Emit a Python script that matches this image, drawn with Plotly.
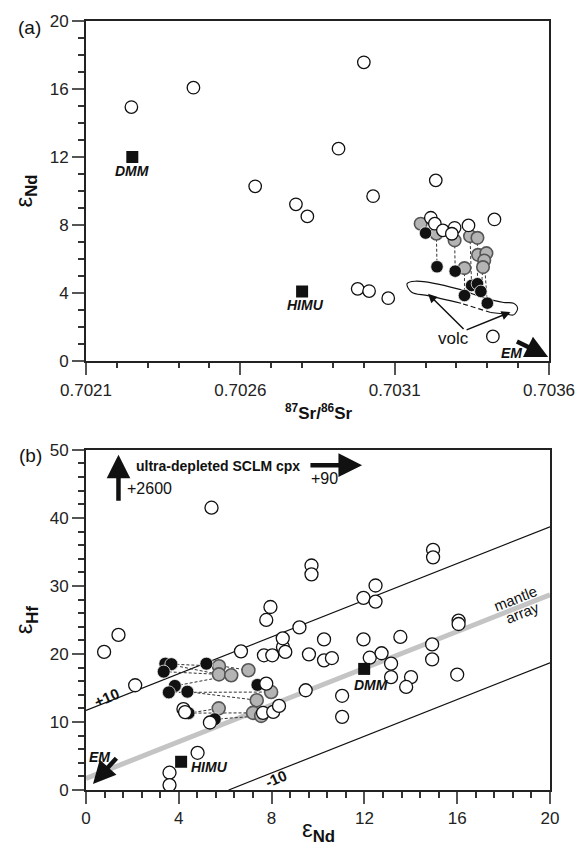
import plotly.graph_objects as go

# ---------------- Panel (a): 87Sr/86Sr vs eNd ----------------
a_open_sr = [0.702247, 0.702448, 0.702648, 0.702780, 0.702817, 0.702918, 0.703000,
             0.703030, 0.703233, 0.703423, 0.702980, 0.703017, 0.703079, 0.703418,
             0.703217, 0.703230, 0.703256, 0.703294, 0.703285, 0.703339]
a_open_nd = [14.94, 16.08, 10.28, 9.22, 8.51, 12.49, 17.57,
             9.70, 10.63, 8.33, 4.25, 4.12, 3.70, 1.45,
             8.43, 8.08, 7.69, 7.84, 7.49, 7.98]
a_grey_sr = [0.703184, 0.703235, 0.703294, 0.703344, 0.703368, 0.703370, 0.703397,
             0.703390, 0.703386, 0.703326]
a_grey_nd = [8.08, 7.49, 7.10, 7.35, 7.25, 6.25, 6.35, 5.92, 5.53, 5.47]
a_black_sr = [0.703200, 0.703237, 0.703296, 0.703349, 0.703368, 0.703326, 0.703379, 0.703400]
a_black_nd = [7.53, 5.55, 5.29, 4.45, 4.55, 3.86, 4.10, 3.41]
a_ties = [(1, 1), (2, 2), (3, 3), (4, 4), (9, 5), (8, 6), (7, 7)]  # (grey idx, black idx)
a_ref_names = ["DMM", "HIMU"]
a_ref_sr = [0.70225, 0.70280]
a_ref_nd = [12.0, 4.1]
a_volc_sr = [0.703315, 0.703208, 0.703155, 0.703140, 0.703166, 0.703304, 0.703389,
             0.703453, 0.703485, 0.703498, 0.703485, 0.703464, 0.703411]
a_volc_nd = [3.40, 3.85, 4.05, 4.55, 4.70, 4.25, 3.72, 3.45, 3.40, 3.10, 2.72, 2.76, 2.86]
a_xticks = [0.7021, 0.7026, 0.7031, 0.7036]
a_yticks = [0, 4, 8, 12, 16, 20]

# ---------------- Panel (b): eNd vs eHf ----------------
b_open_nd = [0.78, 1.40, 2.12, 5.41, 3.60, 3.60, 4.81, 4.20, 4.27, 5.34,
             6.68, 7.67, 8.03, 8.49, 8.59, 8.48, 7.95, 7.77, 7.77, 7.63,
             8.07, 8.32, 9.20, 9.72, 9.72, 9.61, 10.26, 10.26, 10.60, 9.47,
             11.04, 11.04, 11.96, 12.23, 12.74, 12.48, 11.96, 12.48, 13.15, 13.15,
             14.01, 13.80, 13.55, 14.92, 14.92, 14.96, 14.96, 16.06, 16.06, 16.00]
b_open_hf = [20.3, 22.8, 15.4, 41.5, 2.54, 0.73, 5.47, 11.9, 11.45, 9.92,
             20.38, 19.8, 19.8, 21.0, 20.3, 22.3, 26.9, 25.0, 15.64, 11.34,
             11.48, 12.36, 23.9, 33.0, 31.7, 19.94, 22.14, 19.06, 19.4, 14.66,
             13.85, 10.75, 22.14, 19.45, 20.1, 30.06, 28.25, 27.7, 18.57, 16.6,
             16.6, 15.15, 22.5, 21.4, 19.2, 35.3, 34.2, 24.9, 24.4, 16.97]
b_grey_nd = [5.73, 5.73, 6.26, 7.00, 7.98, 7.36, 5.72, 7.20, 7.55]
b_grey_hf = [18.2, 17.0, 16.86, 17.6, 14.4, 13.2, 12.0, 11.34, 10.9]
b_black_nd = [3.42, 3.68, 5.19, 3.35, 3.83, 3.57, 4.37, 7.39, 4.42, 5.55]
b_black_hf = [18.57, 18.5, 18.57, 17.4, 15.3, 14.35, 14.45, 15.45, 11.3, 10.4]
b_ties = [(1, 0), (3, 1), (0, 1), (2, 3), (4, 2), (6, 5), (5, 4), (8, 6), (8, 7), (9, 8)]  # (black, grey)
b_ref_names = ["DMM", "HIMU"]
b_ref_nd = [11.99, 4.10]
b_ref_hf = [17.8, 4.15]
b_array_slope = 1.35
b_array_offsets = [11.7, 1.7, -8.3]   # +10 line, mantle array, -10 line
b_xticks = [0, 4, 8, 12, 16, 20]
b_yticks = [0, 10, 20, 30, 40, 50]

FONT = "Liberation Sans, Arial, Helvetica, sans-serif"
OPEN = dict(color="white", size=12.5, line=dict(color="#111", width=1.3))
GREY = dict(color="#b4b4b4", size=12.5, line=dict(color="#555", width=1.6))
BLACK = dict(color="#111", size=12.5, line=dict(color="#eee", width=0.8))

fig = go.Figure()

# ---- panel (a) traces ----
tx, ty = [], []
for g, b in a_ties:
    tx += [a_grey_sr[g], a_black_sr[b], None]
    ty += [a_grey_nd[g], a_black_nd[b], None]
fig.add_trace(go.Scatter(x=tx, y=ty, mode="lines", line=dict(color="#333", width=1, dash="3px,2px"),
                         xaxis="x", yaxis="y", hoverinfo="skip"))
fig.add_trace(go.Scatter(x=a_volc_sr, y=a_volc_nd, mode="lines", line=dict(color="#111", width=1.1, shape="spline"),
                         xaxis="x", yaxis="y", hoverinfo="skip"))
fig.add_trace(go.Scatter(x=[a_volc_sr[-1], a_volc_sr[0]], y=[a_volc_nd[-1], a_volc_nd[0]], mode="lines",
                         line=dict(color="#111", width=1.1, dash="5px,3px"), xaxis="x", yaxis="y", hoverinfo="skip"))
fig.add_trace(go.Scatter(x=a_grey_sr, y=a_grey_nd, mode="markers", marker=GREY, xaxis="x", yaxis="y"))
fig.add_trace(go.Scatter(x=a_black_sr, y=a_black_nd, mode="markers", marker=BLACK, xaxis="x", yaxis="y"))
fig.add_trace(go.Scatter(x=a_open_sr, y=a_open_nd, mode="markers", marker=OPEN, xaxis="x", yaxis="y"))
fig.add_trace(go.Scatter(x=a_ref_sr, y=a_ref_nd, mode="markers",
                         marker=dict(symbol="square", color="#111", size=12), xaxis="x", yaxis="y"))

# ---- panel (b) traces ----
for off, col, w in zip(b_array_offsets, ["#111", "#c4c4c4", "#111"], [1.2, 5, 1.2]):
    xs = [max(0, -off / b_array_slope), 20]
    fig.add_trace(go.Scatter(x=xs, y=[b_array_slope * v + off for v in xs], mode="lines",
                             line=dict(color=col, width=w), xaxis="x2", yaxis="y2", hoverinfo="skip"))
tx, ty = [], []
for b, g in b_ties:
    tx += [b_black_nd[b], b_grey_nd[g], None]
    ty += [b_black_hf[b], b_grey_hf[g], None]
fig.add_trace(go.Scatter(x=tx, y=ty, mode="lines", line=dict(color="#333", width=1, dash="3px,2px"),
                         xaxis="x2", yaxis="y2", hoverinfo="skip"))
fig.add_trace(go.Scatter(x=b_grey_nd, y=b_grey_hf, mode="markers", marker={**GREY, "size": 13}, xaxis="x2", yaxis="y2"))
fig.add_trace(go.Scatter(x=b_black_nd, y=b_black_hf, mode="markers", marker={**BLACK, "size": 13}, xaxis="x2", yaxis="y2"))
fig.add_trace(go.Scatter(x=b_open_nd, y=b_open_hf, mode="markers", marker={**OPEN, "size": 13}, xaxis="x2", yaxis="y2"))
fig.add_trace(go.Scatter(x=b_ref_nd, y=b_ref_hf, mode="markers",
                         marker=dict(symbol="square", color="#111", size=12), xaxis="x2", yaxis="y2"))


def axis(rng, domain, anchor, tickvals, ticktext, minor_dtick, minor_len):
    return dict(range=rng, domain=domain, anchor=anchor, tickvals=tickvals, ticktext=ticktext,
                ticks="outside", ticklen=12, tickwidth=1.5, tickcolor="#555",
                minor=dict(dtick=minor_dtick, tick0=rng[0], ticks="outside", ticklen=minor_len,
                           tickwidth=1.5, tickcolor="#333"),
                showline=True, linecolor="#222", linewidth=2, mirror=True,
                showgrid=False, zeroline=False, tickfont=dict(size=17, color="#222", family=FONT))


annotations = []


def label(text, x, y, ref="", size=14, angle=0, xanchor="center"):
    if ref == "paper":
        annotations.append(dict(text=text, x=x, y=y, xref="paper", yref="paper", showarrow=False,
                                font=dict(size=size, color="#111", family=FONT), textangle=angle,
                                xanchor=xanchor, yanchor="middle"))
    else:
        annotations.append(dict(text=text, x=x, y=y, xref="x" + ref, yref="y" + ref, showarrow=False,
                                font=dict(size=size, color="#111", family=FONT), textangle=angle,
                                xanchor=xanchor, yanchor="middle"))


def arrow(x0, y0, x1, y1, ref="", width=1.5, size=1.2):
    annotations.append(dict(text="", x=x1, y=y1, ax=x0, ay=y0, xref="x" + ref, yref="y" + ref,
                            axref="x" + ref, ayref="y" + ref, showarrow=True, arrowhead=2,
                            arrowwidth=width, arrowsize=size, arrowcolor="#111"))


# panel (a) labels
label("<b><i>DMM</i></b>", a_ref_sr[0], 11.2)
label("<b><i>HIMU</i></b>", a_ref_sr[1] + 0.000012, 3.3)
label("volc", 0.703291, 1.35, size=17)
label("<b><i>EM</i></b>", 0.703478, 0.5)
arrow(0.703328, 1.8, 0.703208, 3.96)
arrow(0.703328, 1.8, 0.703475, 2.88)
arrow(0.703491, 1.2, 0.703597, 0.25, width=4.5, size=1.0)

# panel (b) labels
label("<b><i>DMM</i></b>", 12.27, 15.5, "2")
label("<b><i>HIMU</i></b>", 4.42, 3.4, "2", xanchor="left")
label("<b><i>EM</i></b>", 0.6, 4.8, "2")
arrow(1.37, 4.9, 0.3, 0.9, "2", width=4.5, size=1.0)
arrow(1.4, 42.3, 1.4, 49.3, "2", width=4.5, size=1.05)
arrow(9.61, 47.75, 11.9, 47.75, "2", width=4.5, size=1.05)
label("<b>ultra-depleted SCLM cpx</b>", 2.05, 47.7, "2", size=14, xanchor="left")
label("+2600", 1.7, 44.3, "2", size=16, xanchor="left")
label("+90", 10.3, 45.8, "2", size=16)
label("<b>+10</b>", 0.9, 13.6, "2", size=15, angle=-24)
label("<b>-10</b>", 8.2, 1.7, "2", size=15, angle=-24)
label("mantle", 18.5, 28.1, "2", size=15, angle=-21.5)
label("array", 18.8, 26.1, "2", size=15, angle=-21.5)

# panel titles / axis titles
label("(a)", -0.121, 0.992, "paper", size=19)
label("(b)", -0.119, 0.4345, "paper", size=19)
label("<b><sup>87</sup>Sr/<sup>86</sup>Sr</b>", 0.5, 0.492, "paper", size=17)
label("ε<sub><b>Nd</b></sub>", -0.1295, 0.7795, "paper", size=24, angle=-90)
label("ε<sub><b>Hf</b></sub>", -0.1295, 0.2218, "paper", size=24, angle=-90)
label("ε<sub><b>Nd</b></sub>", 0.5, -0.053, "paper", size=24)

fig.update_layout(
    width=588, height=849, margin=dict(l=86, r=31, t=19, b=59),
    paper_bgcolor="white", plot_bgcolor="white", showlegend=False,
    font=dict(family=FONT, color="#111"),
    xaxis=axis([0.7021, 0.7036], [0, 0.998], "y", a_xticks, [f"{v:.4f}" for v in a_xticks], 0.0001, 5),
    yaxis=axis([0, 20], [0.5577, 1.0], "x", a_yticks, [str(v) for v in a_yticks], 1, 6),
    xaxis2=axis([0, 20], [0, 1], "y2", b_xticks, [str(v) for v in b_xticks], 0.8, 6),
    yaxis2=axis([0, 50], [0, 0.4423], "x2", b_yticks, [str(v) for v in b_yticks], 2, 6),
    annotations=annotations,
)

fig.write_html("out.html")
